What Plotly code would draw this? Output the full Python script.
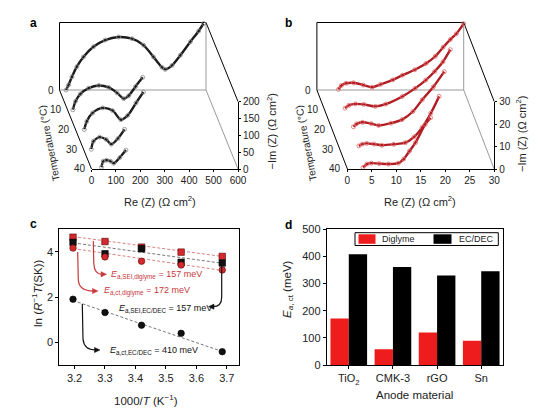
import plotly.graph_objects as go

# reference canvas is 550x413; the page body adds an 8 px margin, so the figure is
# made 8 px smaller and every reference pixel position is shifted by that margin.
W, H = 550, 413
OFF = 8
FW, FH = W - OFF, H - OFF
FONT = "Arial, Liberation Sans, sans-serif"

# ---------------- data ----------------
temps = [0, 10, 20, 30, 40]

# panel a : Nyquist plots (Re, -Im in ohm cm2)
a_re_0 = [27, 37, 51, 71, 98, 139, 187, 242, 297, 344, 385, 420, 433, 461, 495, 536, 570, 590]
a_im_0 = [0, 15, 39, 69, 98, 128, 148, 157, 152, 133, 98, 67, 61, 73, 103, 143, 175, 197]
a_re_10 = [22, 33, 53, 87, 128, 169, 203, 230, 251, 279, 308]
a_im_10 = [0, 25, 47, 64, 72, 66, 50, 33, 42, 69, 96]
a_re_20 = [36, 46, 70, 111, 152, 186, 214, 248, 278]
a_im_20 = [0, 24, 49, 64, 56, 29, 42, 79, 111]
a_re_30 = [32, 41, 66, 93, 114, 141, 168]
a_im_30 = [0, 24, 36, 29, 15, 32, 59]
a_re_40 = [41, 48, 61, 78, 91, 116, 141]
a_im_40 = [5, 23, 26, 23, 17, 34, 56]

# panel b
b_re_0 = [4.4, 5.0, 6.0, 7.5, 9.5, 11.3, 13.0, 15.5, 17.5, 20.0, 22.3, 24.2, 25.8, 27.3, 28.5, 30.0]
b_im_0 = [0.3, 2.0, 3.0, 3.2, 2.2, 1.2, 2.5, 4.5, 6.6, 9.0, 11.8, 15.0, 19.0, 22.5, 25.0, 29.5]
b_re_10 = [4.2, 5.0, 6.3, 8.0, 10.4, 12.5, 15.9, 18.5, 20.7, 22.5, 24.2, 25.7]
b_im_10 = [0.7, 2.0, 2.6, 2.4, 1.5, 2.5, 5.9, 9.5, 13.2, 17.0, 21.3, 26.7]
b_re_20 = [4.35, 5.0, 6.2, 8.0, 9.5, 12.0, 14.3, 16.5, 18.4, 20.7, 22.9]
b_im_20 = [1.2, 2.5, 3.2, 2.6, 1.8, 2.8, 4.4, 8.0, 13.2, 19.0, 25.7]
b_re_30 = [3.9, 4.6, 5.5, 7.0, 8.6, 11.0, 13.4, 15.2, 16.8, 18.6, 20.3]
b_im_30 = [1.5, 2.3, 2.6, 2.3, 1.8, 2.2, 2.9, 5.5, 9.6, 16.0, 23.5]
b_re_40 = [3.2, 4.0, 4.9, 6.5, 8.4, 10.4, 11.5, 12.7, 13.9, 15.9, 17.0]
b_im_40 = [0.7, 2.2, 2.6, 2.4, 2.2, 2.6, 4.4, 8.0, 11.7, 19.8, 22.8]

a_ticks_re = [0, 100, 200, 300, 400, 500, 600]
a_ticks_im = [0, 50, 100, 150, 200]
b_ticks_re = [0, 5, 10, 15, 20, 25, 30]
b_ticks_im = [0, 10, 20, 30]

# panel c : Arrhenius plot
inv_T = [3.195, 3.30, 3.42, 3.55, 3.685]
ln_sei_diglyme = [4.65, 4.46, 4.21, 3.99, 3.80]
ln_sei_ecdec = [4.42, 3.92, 4.14, 3.54, 3.51]
ln_ct_diglyme = [4.17, 3.78, 3.59, 3.42, 3.20]
ln_ct_ecdec = [1.91, 1.32, 0.76, 0.40, -0.41]
fit_x = [3.195, 3.685]
fit_sei_diglyme = [4.68, 3.80]
fit_sei_ecdec = [4.40, 3.50]
fit_ct_diglyme = [4.15, 3.18]
fit_ct_ecdec = [1.85, -0.40]
c_xticks = [3.2, 3.3, 3.4, 3.5, 3.6, 3.7]
c_yticks = [0, 2, 4]

# panel d : activation energies
anodes = ["TiO2", "CMK-3", "rGO", "Sn"]
anode_labels = ["TiO<sub>2</sub>", "CMK-3", "rGO", "Sn"]
ea_diglyme = [171, 58, 120, 89]
ea_ecdec = [408, 361, 330, 345]
d_yticks = [0, 100, 200, 300, 400, 500]
legend_names = ["Diglyme", "EC/DEC"]

# ---------------- helpers ----------------
fig = go.Figure()
layout_axes = {}
shapes = []
annotations = []


def sfx(n):
    return "" if n == 1 else str(n)


def fx(x):
    return (x - OFF) / FW


def fy(y):
    return 1 - (y - OFF) / FH


def set_axes(n, x0, x1, ytop, ybot, xcfg, ycfg):
    s = sfx(n)
    layout_axes["xaxis" + s] = dict(domain=[fx(x0), fx(x1)], anchor="y" + s, **xcfg)
    layout_axes["yaxis" + s] = dict(domain=[fy(ybot), fy(ytop)], anchor="x" + s, **ycfg)


def pline(x0, y0, x1, y1, color="black", width=1):
    shapes.append(dict(type="line", xref="paper", yref="paper", x0=fx(x0), y0=fy(y0),
                       x1=fx(x1), y1=fy(y1), line=dict(color=color, width=width), layer="below"))


def prect(x0, y0, x1, y1, fill, line_color=None, width=1):
    shapes.append(dict(type="rect", xref="paper", yref="paper", x0=fx(x0), y0=fy(y1),
                       x1=fx(x1), y1=fy(y0), fillcolor=fill,
                       line=dict(color=line_color or fill, width=width if line_color else 0)))


def text(x, y, t, size=11, color="#222", angle=0, xanchor="center", yanchor="middle"):
    annotations.append(dict(xref="paper", yref="paper", x=fx(x), y=fy(y), text=t, showarrow=False,
                            font=dict(size=size, color=color, family=FONT), textangle=angle,
                            xanchor=xanchor, yanchor=yanchor))


def waterfall(n0, bx0, width, ybot0, height, step, re_sets, im_sets, xr, yr, xt, yt,
              lcolor, mcolor):
    sx, sy = step
    for k, T in enumerate(temps):
        n = n0 + k
        ox, oy = bx0 + sx * T / 10, ybot0 + sy * T / 10
        front = k == len(temps) - 1
        if front:
            xcfg = dict(range=xr, showline=True, linecolor="black", linewidth=1, ticks="outside",
                        ticklen=2, tickcolor="black", tickvals=xt, showgrid=False, zeroline=False,
                        tickfont=dict(size=10, color="#222", family=FONT), fixedrange=True)
            ycfg = dict(range=yr, side="right", showline=True, linecolor="black", linewidth=1,
                        ticks="outside", ticklen=2, tickcolor="black", tickvals=yt, showgrid=False,
                        zeroline=False, tickfont=dict(size=10, color="#222", family=FONT),
                        fixedrange=True)
        else:
            xcfg = dict(range=xr, visible=False, fixedrange=True)
            ycfg = dict(range=yr, visible=False, fixedrange=True)
        set_axes(n, ox, ox + width, oy - height, oy, xcfg, ycfg)
        s = sfx(n)
        fig.add_trace(go.Scatter(
            x=re_sets[k], y=im_sets[k], xaxis="x" + s, yaxis="y" + s, mode="lines+markers",
            line=dict(shape="spline", smoothing=0.8, color=lcolor, width=2.4),
            marker=dict(symbol="circle-open", size=4, color=mcolor, line=dict(width=0.8)),
            cliponaxis=False, showlegend=False, name=f"{T} °C"))
        annotations.append(dict(xref=f"x{s} domain", yref=f"y{s} domain", x=0, y=0,
                                text=str(T), showarrow=False, xanchor="right", yanchor="middle",
                                xshift=-4, font=dict(size=10, color="#222", family=FONT)))
    # box frame
    bx1 = bx0 + width
    ybt = ybot0 - height
    dx, dy = sx * 4, sy * 4
    pline(bx0, ybt, bx1, ybt, "black")
    pline(bx0, ybt, bx0, ybot0, "black")
    pline(bx0, ybot0, bx1, ybot0, "#9a9a9a")
    pline(bx1, ybt, bx1, ybot0, "#9a9a9a")
    pline(bx0, ybot0, bx0 + dx, ybot0 + dy, "black")
    pline(bx1, ybt, bx1 + dx, ybt + dy, "black")
    pline(bx1, ybot0, bx1 + dx, ybot0 + dy, "#9a9a9a")


# ---------------- panel a ----------------
waterfall(1, 59.5, 146.5, 90, 67.5, (8.0, 19.75),
          [a_re_0, a_re_10, a_re_20, a_re_30, a_re_40],
          [a_im_0, a_im_10, a_im_20, a_im_30, a_im_40],
          [0, 600], [0, 200], a_ticks_re, a_ticks_im, "#1c1c1c", "#8a8a8a")
text(160, 201, "Re (Z) (Ω cm<sup>2</sup>)", 11)
text(271.5, 132, "−Im (Z) (Ω cm<sup>2</sup>)", 11, angle=-90)
text(49.5, 143, "Temperature (°C)", 10, angle=-101)
text(33, 23, "<b>a</b>", 12, color="black")

# ---------------- panel b ----------------
waterfall(6, 316.9, 146.8, 90, 67.5, (7.625, 19.75),
          [b_re_0, b_re_10, b_re_20, b_re_30, b_re_40],
          [b_im_0, b_im_10, b_im_20, b_im_30, b_im_40],
          [0, 30], [0, 30], b_ticks_re, b_ticks_im, "#b01e24", "#e26a6a")
text(420, 201, "Re (Z) (Ω cm<sup>2</sup>)", 11)
text(521, 134, "−Im (Z) (Ω cm<sup>2</sup>)", 11, angle=-90)
text(306.5, 143, "Temperature (°C)", 10, angle=-101)
text(288, 23, "<b>b</b>", 12, color="black")

# ---------------- panel c ----------------
box = dict(showline=True, linecolor="black", linewidth=1, mirror=True, ticks="outside",
           ticklen=3, tickcolor="black", showgrid=False, zeroline=False, fixedrange=True,
           tickfont=dict(size=11, color="#222", family=FONT))
set_axes(11, 59.3, 239, 229.3, 365,
         dict(range=[3.15, 3.74], tickvals=c_xticks, tickformat=".1f", **box),
         dict(range=[-1, 5], tickvals=c_yticks, **box))
RED = "#d42a2f"
series_c = [
    (ln_sei_diglyme, fit_sei_diglyme, RED, "square", "#d98080"),
    (ln_sei_ecdec, fit_sei_ecdec, "#111111", "square", "#777777"),
    (ln_ct_diglyme, fit_ct_diglyme, RED, "circle", "#d98080"),
    (ln_ct_ecdec, fit_ct_ecdec, "#111111", "circle", "#777777"),
]
for ys, fyv, col, sym, dcol in series_c:
    fig.add_trace(go.Scatter(x=fit_x, y=fyv, xaxis="x11", yaxis="y11", mode="lines",
                             line=dict(color=dcol, width=1, dash="3px,2px"), showlegend=False))
for ys, fyv, col, sym, dcol in series_c:
    fig.add_trace(go.Scatter(x=inv_T, y=ys, xaxis="x11", yaxis="y11", mode="markers",
                             marker=dict(symbol=sym, size=6.5, color=col,
                                         line=dict(width=0.6, color="#5a0000" if col == RED else "#000")),
                             showlegend=False, cliponaxis=False))


def curved_arrow(pts, color, direction):
    (x0, y0), (x1, y1), (qx, qy), (x2, y2) = pts
    path = "M {} {} L {} {} Q {} {} {} {}".format(
        fx(x0), fy(y0), fx(x1), fy(y1), fx(qx), fy(qy), fx(x2), fy(y2))
    shapes.append(dict(type="path", xref="paper", yref="paper", path=path,
                       line=dict(color=color, width=1.2)))
    tx = x2 + 4.5 * direction
    head = "M {} {} L {} {} L {} {} Z".format(
        fx(tx), fy(y2), fx(x2 - 1 * direction), fy(y2 - 2.6), fx(x2 - 1 * direction), fy(y2 + 2.6))
    shapes.append(dict(type="path", xref="paper", yref="paper", path=head,
                       fillcolor=color, line=dict(color=color, width=0.5)))


TXT_RED = "#c8383c"
curved_arrow([(93.3, 241), (93.8, 264), (94.5, 274.3), (102, 274.3)], TXT_RED, 1)
curved_arrow([(77.7, 252), (78.3, 280), (79, 291), (93.5, 291)], TXT_RED, 1)
curved_arrow([(221.7, 266), (221.7, 297), (221.7, 306.7), (213, 306.7)], "#111", -1)
curved_arrow([(82.3, 304), (83, 339), (84, 350), (95.5, 350)], "#111", 1)

text(109, 275, "<i>E</i><sub>a,SEI,diglyme</sub> = 157 meV", 9, TXT_RED, xanchor="left")
text(101.5, 291, "<i>E</i><sub>a,ct,diglyme</sub> = 172 meV", 9, TXT_RED, xanchor="left")
text(117, 308, "<i>E</i><sub>a,SEI,EC/DEC</sub> = 157 meV", 9, "#111", xanchor="left")
text(108, 350, "<i>E</i><sub>a,ct,EC/DEC</sub> = 410 meV", 9, "#111", xanchor="left")

text(146, 400, "1000/<i>T</i> (K<sup>−1</sup>)", 11.5)
text(37, 293, "ln (<i>R</i><sup>−1</sup><i>T</i>(SK))", 11.5, angle=-90)
text(33, 224, "<b>c</b>", 12, color="black")

# ---------------- panel d ----------------
set_axes(12, 326.7, 503.3, 229.3, 365,
         dict(type="category", tickvals=anodes, ticktext=anode_labels, range=[-0.5, 3.5], **box),
         dict(range=[0, 500], tickvals=d_yticks, **box))
BAR_RED = "#ee1c1c"
fig.add_trace(go.Bar(x=anodes, y=ea_diglyme, name=legend_names[0], xaxis="x12", yaxis="y12",
                     marker=dict(color=BAR_RED, line=dict(width=0)), showlegend=False))
fig.add_trace(go.Bar(x=anodes, y=ea_ecdec, name=legend_names[1], xaxis="x12", yaxis="y12",
                     marker=dict(color="#000000", line=dict(width=0)), showlegend=False))
# legend box (drawn as in the reference: wide swatches inside a framed box)
prect(355, 232.7, 498.3, 245.5, "white", "black", 1)
prect(358.5, 234.3, 375.5, 243.8, BAR_RED)
text(380, 239, legend_names[0], 9, xanchor="left")
prect(433.5, 234.3, 451.5, 243.8, "#000000")
text(456.5, 239, legend_names[1], 9, xanchor="left")

text(414, 395, "Anode material", 11.5)
text(288, 289, "<i>E</i><sub><i>a</i>, ct</sub> (meV)", 11.5, angle=-90)
text(288, 225, "<b>d</b>", 12, color="black")

fig.update_layout(
    width=FW, height=FH, margin=dict(l=0, r=0, t=0, b=0), template="none",
    paper_bgcolor="white", plot_bgcolor="rgba(0,0,0,0)",
    font=dict(family=FONT, color="#222", size=10),
    barmode="group", bargap=0.17, bargroupgap=0,
    showlegend=False,
    shapes=shapes, annotations=annotations,
    **layout_axes,
)

fig.write_html("out.html")
